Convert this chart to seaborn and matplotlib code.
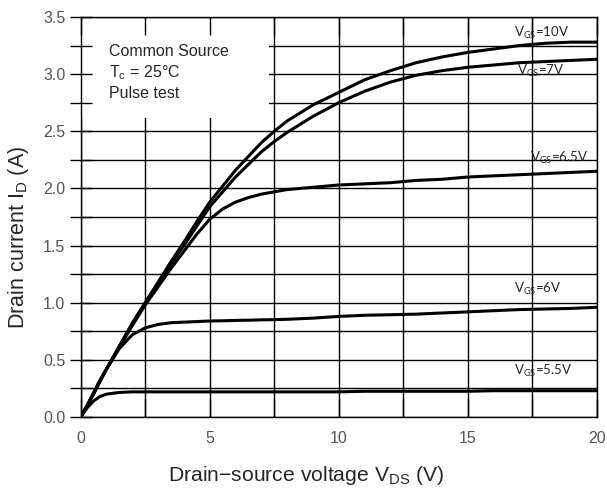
import matplotlib
matplotlib.use("Agg")
import matplotlib.pyplot as plt
import seaborn as sns
import pandas as pd
from matplotlib.patches import Rectangle

# drain-source voltage (V)
vds = [0, 0.25, 0.5, 0.75, 1, 1.5, 2, 2.5, 3, 3.5, 4, 4.5, 5, 5.5, 6, 6.5, 7, 7.5, 8,
       9, 10, 11, 12, 13, 14, 15, 16, 17, 18, 19, 20]

# drain current (A) for each gate voltage
id_10v = [0, 0.1, 0.21, 0.32, 0.42, 0.62, 0.82, 1.0, 1.18, 1.36, 1.53, 1.71, 1.88, 2.02, 2.16,
          2.28, 2.4, 2.5, 2.59, 2.73, 2.84, 2.95, 3.03, 3.1, 3.15, 3.19, 3.22, 3.25, 3.27, 3.28, 3.28]
id_7v = [0, 0.1, 0.21, 0.32, 0.42, 0.62, 0.82, 1.0, 1.17, 1.34, 1.5, 1.67, 1.84, 1.97, 2.1,
         2.21, 2.32, 2.41, 2.49, 2.63, 2.75, 2.85, 2.93, 2.99, 3.03, 3.06, 3.08, 3.1, 3.11, 3.12, 3.13]
id_6v5 = [0, 0.1, 0.21, 0.32, 0.42, 0.61, 0.8, 0.98, 1.14, 1.3, 1.45, 1.6, 1.73, 1.82, 1.88,
          1.92, 1.95, 1.97, 1.99, 2.01, 2.03, 2.04, 2.05, 2.07, 2.08, 2.1, 2.11, 2.12, 2.13, 2.14, 2.15]
id_6v = [0, 0.1, 0.2, 0.31, 0.42, 0.6, 0.72, 0.78, 0.81, 0.825, 0.83, 0.835, 0.84, 0.842, 0.845,
         0.847, 0.85, 0.852, 0.855, 0.865, 0.88, 0.89, 0.895, 0.9, 0.91, 0.92, 0.93, 0.94, 0.945, 0.95, 0.96]
id_5v5 = [0, 0.08, 0.14, 0.18, 0.2, 0.215, 0.22, 0.22, 0.22, 0.22, 0.22, 0.22, 0.22, 0.22, 0.22,
          0.22, 0.22, 0.22, 0.22, 0.22, 0.22, 0.225, 0.225, 0.225, 0.225, 0.225, 0.23, 0.23, 0.23, 0.23, 0.23]

curve_labels = ["10V", "7V", "6.5V", "6V", "5.5V"]
curve_values = [id_10v, id_7v, id_6v5, id_6v, id_5v5]

# label anchor (V, A) per curve
label_x = [16.8, 16.9, 17.4, 16.8, 16.8]
label_y = [3.36, 3.03, 2.27, 1.12, 0.40]

x_major = [0, 5, 10, 15, 20]
x_minor = [2.5, 7.5, 12.5, 17.5]
y_major = [0, 0.5, 1.0, 1.5, 2.0, 2.5, 3.0, 3.5]
y_minor = [0.25, 0.75, 1.25, 1.75, 2.25, 2.75, 3.25]

conditions = ["Common Source", r"T$_\mathregular{c}$ = 25°C", "Pulse test"]
conditions_y = [3.20, 3.01, 2.83]

sns.set_style("white")
plt.rcParams["font.family"] = ["Liberation Sans", "DejaVu Sans"]

fig = plt.figure(figsize=(6.07, 5.0), dpi=100)
ax = fig.add_axes([0.133, 0.166, 0.85, 0.80])

df = pd.DataFrame({
    "vds": vds * len(curve_labels),
    "id": sum(curve_values, []),
    "vgs": sum([[lab] * len(vds) for lab in curve_labels], []),
})
sns.lineplot(data=df, x="vds", y="id", hue="vgs", hue_order=curve_labels,
             palette=["black"] * len(curve_labels), linewidth=2.2,
             legend=False, ax=ax, zorder=3)

ax.set_xlim(0, 20)
ax.set_ylim(0, 3.5)
ax.set_axisbelow(False)

# grid lines below the white condition panel, ticks above it
for v in x_major + x_minor:
    ax.axvline(v, color="black", linewidth=1.0, zorder=1)
for v in y_major + y_minor:
    ax.axhline(v, color="black", linewidth=1.0, zorder=1)
ax.add_patch(Rectangle((0.05, 2.62), 7.25, 0.86, facecolor="white",
                       edgecolor="none", zorder=1.5))

ax.set_xticks(x_major)
ax.set_xticks(x_minor, minor=True)
ax.set_yticks(y_major)
ax.set_yticklabels([f"{v:.1f}" for v in y_major])
ax.set_yticks(y_minor, minor=True)
ax.tick_params(axis="y", which="both", left=True, direction="inout", length=16,
               width=1, color="black")
ax.tick_params(axis="y", which="major", labelsize=11.5, labelcolor="#555555", pad=3)
ax.tick_params(axis="x", which="both", bottom=True, top=True, direction="in",
               length=13, width=1, color="black")
ax.tick_params(axis="x", which="major", labelsize=11.5, labelcolor="#555555", pad=10)
for s in ax.spines.values():
    s.set_color("black")
    s.set_linewidth(1.0)

for txt, ty in zip(conditions, conditions_y):
    ax.text(1.1, ty, txt, fontsize=11.5, va="center", zorder=4)

for lab, lx, ly in zip(curve_labels, label_x, label_y):
    ax.text(lx, ly, r"V$_\mathregular{GS}$=" + lab, fontsize=9.5,
            family=["Lato", "DejaVu Sans"], va="center", zorder=4)

ax.set_xlabel(r"Drain−source voltage V$_\mathregular{DS}$ (V)", fontsize=15.2)
ax.xaxis.set_label_coords(0.437, -0.118)
ax.set_ylabel(r"Drain current I$_\mathregular{D}$ (A)", fontsize=15.5)
ax.yaxis.set_label_coords(-0.097, 0.45)

fig.savefig("out.png", dpi=100)
